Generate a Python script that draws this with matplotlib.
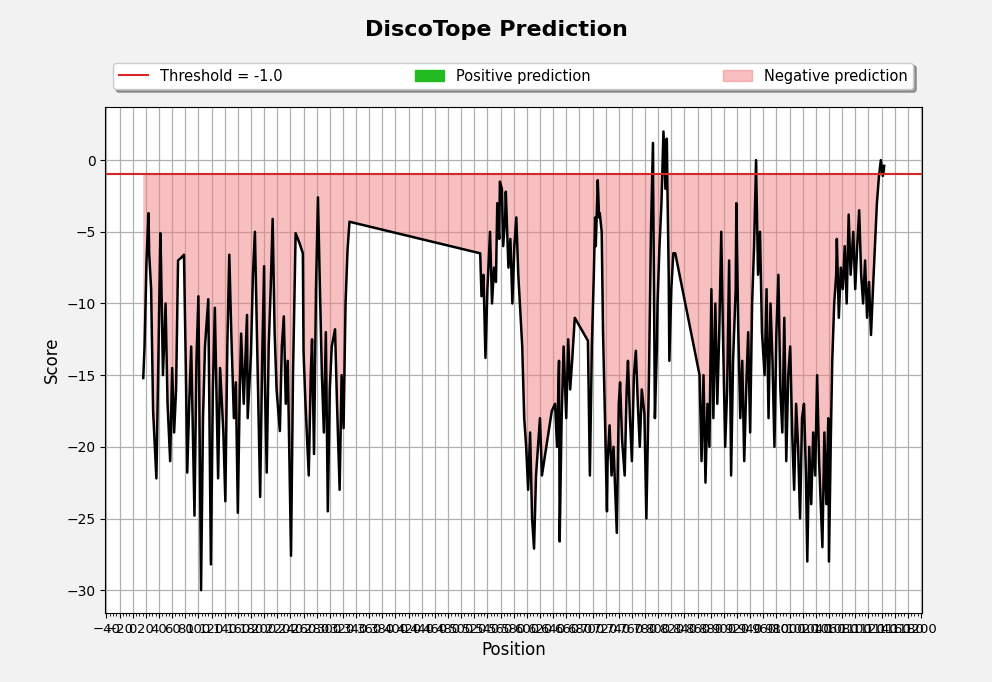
import matplotlib.pyplot as plt
import numpy as np
from matplotlib.ticker import MultipleLocator
from matplotlib.patches import Patch
from matplotlib.lines import Line2D

threshold = -1.0

# residue positions and DiscoTope scores
positions = [
    16, 18, 21, 24, 25, 28, 31, 36, 39, 42, 43, 46, 50, 53, 57, 60, 63, 66, 69, 74,
    78, 81, 83, 86, 89, 94, 97, 100, 104, 107, 110, 115, 119, 122, 125, 130, 133, 138, 141, 144,
    147, 150, 154, 157, 160, 163, 165, 169, 174, 175, 180, 183, 186, 189, 194, 197, 200, 201, 204, 207,
    210, 213, 216, 219, 224, 227, 230, 233, 236, 241, 244, 248, 254, 259, 260, 263, 268, 271, 273, 276,
    279, 282, 285, 288, 291, 294, 297, 300, 303, 308, 311, 315, 318, 321, 324, 327, 330,
    529, 531, 534, 537, 540, 543, 544, 547, 550, 553, 555, 558, 559, 562, 564, 567, 568, 572, 575, 578,
    581, 584, 587, 590, 593, 596, 599, 602, 605, 608, 611, 614, 617, 620, 623, 638, 643, 646, 649, 650,
    653, 656, 660, 663, 666, 669, 673, 693, 696, 699, 702, 704, 705, 708, 710, 711, 714, 716, 719, 722,
    723, 726, 729, 732, 737, 740, 742, 745, 749, 752, 754, 757, 760, 763, 766, 769, 772, 775, 779, 782,
    786, 789, 792, 795, 798, 799, 802, 805, 808, 811, 813, 816, 817, 820, 823, 826,
    863, 866, 869, 872, 875, 878, 881, 884, 887, 890, 893, 896, 899, 902, 905, 908, 911, 914, 918, 919,
    922, 925, 928, 931, 934, 937, 940, 943, 946, 949, 952, 955, 958, 962, 965, 968, 971, 974, 977, 980,
    983, 986, 989, 992, 995, 998, 1001, 1004, 1007, 1010, 1013, 1016, 1019, 1022, 1025, 1027, 1030, 1033, 1036, 1039,
    1042, 1045, 1050, 1053, 1056, 1059, 1060, 1063, 1065, 1068, 1071, 1072, 1075, 1078, 1081, 1084, 1087, 1090, 1093, 1097,
    1100, 1103, 1106, 1109, 1112, 1115, 1118, 1121, 1124, 1127, 1130, 1133, 1136, 1139, 1142, 1144,
]
scores = [
    -15.2, -13.0, -7.0, -3.7, -6.5, -9.0, -17.5, -22.2, -14.0, -5.1, -7.0, -15.0, -10.0, -17.0, -21.0, -14.5, -19.0, -16.0, -7.0, -6.8,
    -6.6, -15.0, -21.8, -17.0, -13.0, -24.8, -14.0, -9.5, -30.0, -18.0, -13.0, -9.7, -28.2, -16.0, -10.3, -22.2, -14.5, -19.0, -23.8, -13.0,
    -6.6, -12.0, -18.0, -15.5, -24.6, -16.0, -12.1, -17.0, -10.8, -18.0, -13.5, -8.0, -5.0, -12.0, -23.5, -14.0, -7.4, -15.0, -21.8, -13.0,
    -9.0, -4.1, -12.0, -16.0, -18.9, -13.0, -10.9, -17.0, -14.0, -27.6, -15.0, -5.1, -5.8, -6.5, -13.3, -17.0, -22.0, -15.0, -12.5, -20.5,
    -9.0, -2.6, -9.0, -15.0, -19.0, -12.0, -24.5, -16.0, -13.0, -11.8, -17.0, -23.0, -15.0, -18.7, -10.0, -6.3, -4.3,
    -6.5, -9.5, -8.0, -13.8, -9.0, -6.0, -5.0, -10.0, -7.5, -8.5, -3.0, -5.5, -1.5, -2.0, -6.0, -4.0, -2.2, -7.5, -5.5, -10.0,
    -6.0, -4.0, -8.0, -10.5, -13.0, -18.0, -20.0, -23.0, -19.0, -25.0, -27.1, -22.0, -20.0, -18.0, -22.0, -17.5, -17.0, -20.0, -14.0, -26.6,
    -18.0, -13.0, -18.0, -12.5, -16.0, -14.0, -11.0, -12.6, -22.0, -13.0, -8.0, -4.0, -6.0, -1.4, -4.0, -3.7, -5.0, -12.0, -18.0, -24.5,
    -21.0, -18.5, -22.0, -20.0, -26.0, -17.0, -15.5, -19.5, -22.0, -16.0, -14.0, -18.0, -21.0, -15.0, -13.3, -17.0, -20.0, -16.0, -17.7, -25.0,
    -15.0, -5.0, 1.2, -18.0, -13.0, -10.0, -6.0, -3.0, 2.0, -2.0, 1.5, -8.0, -14.0, -9.0, -6.5, -6.5,
    -15.0, -21.0, -15.0, -22.5, -17.0, -20.0, -9.0, -18.0, -10.0, -17.0, -12.0, -5.0, -13.0, -20.0, -16.0, -7.0, -22.0, -14.0, -9.0, -3.0,
    -12.0, -18.0, -14.0, -21.0, -16.0, -12.0, -19.0, -10.0, -6.0, 0.0, -8.0, -5.0, -12.0, -15.0, -9.0, -18.0, -10.0, -14.0, -20.0, -12.0,
    -8.0, -16.0, -19.0, -11.0, -21.0, -15.0, -13.0, -19.0, -23.0, -17.0, -20.0, -25.0, -18.0, -17.0, -22.0, -28.0, -20.0, -24.0, -19.0, -22.0,
    -15.0, -21.0, -27.0, -19.0, -24.0, -18.0, -28.0, -19.0, -14.0, -10.0, -8.0, -5.5, -11.0, -7.5, -9.0, -6.0, -10.0, -3.8, -8.0, -5.0,
    -9.0, -6.0, -3.5, -8.0, -10.0, -7.0, -11.0, -8.5, -12.2, -9.0, -6.0, -3.0, -1.2, 0.0, -1.1, -0.4,
]

x = np.array(positions)
y = np.array(scores)

fig = plt.figure(figsize=(9.92, 6.82), dpi=100, facecolor='#f2f2f2')
ax = fig.add_axes([0.106, 0.101, 0.823, 0.742])

ax.fill_between(x, y, threshold, where=y > threshold, color='#22bb22')
ax.fill_between(x, y, threshold, where=y <= threshold, color='lightcoral', alpha=0.5, lw=0)
ax.plot(x, y, color='black', lw=1.8)
ax.axhline(threshold, color='#d62728', lw=1.5)

ax.set_xlim(-42, 1201)
ax.set_ylim(-31.6, 3.7)
ax.xaxis.set_major_locator(MultipleLocator(20))
ax.xaxis.set_minor_locator(MultipleLocator(5))
ax.tick_params(axis='x', labelsize=9.5)
ax.tick_params(axis='y', labelsize=10)
ax.grid(True, color='#b0b0b0', lw=0.9)
ax.set_axisbelow(True)

ax.set_xlabel('Position', fontsize=12)
ax.set_ylabel('Score', fontsize=12)
fig.suptitle('DiscoTope Prediction', fontsize=16, fontweight='bold', y=0.97)

handles = [
    Line2D([0], [0], color='#d62728', lw=1.5, label='Threshold = -1.0'),
    Patch(color='#22bb22', label='Positive prediction'),
    Patch(color='lightcoral', alpha=0.5, label='Negative prediction'),
]
ax.legend(handles=handles, loc='lower left', bbox_to_anchor=(0.01, 1.035, 0.98, 0.06),
          ncol=3, mode='expand', shadow=True, fontsize=10.5, borderaxespad=0)

plt.savefig('out.png', dpi=100, facecolor=fig.get_facecolor())
